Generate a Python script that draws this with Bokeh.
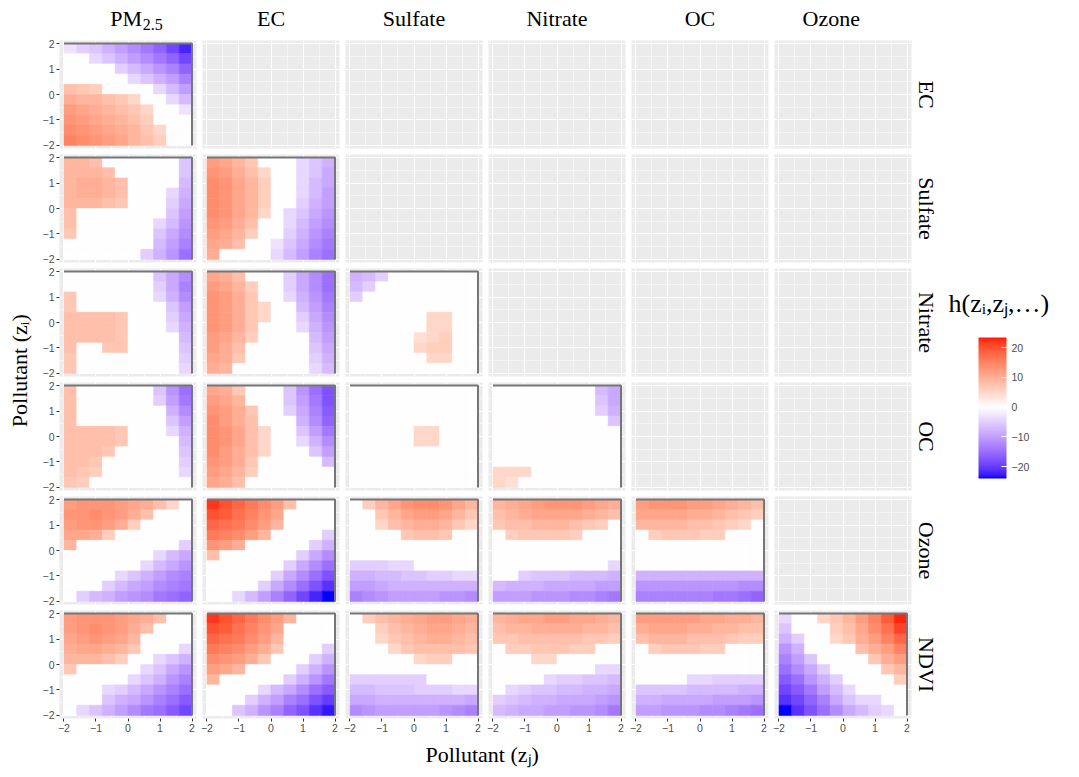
import numpy as np
from math import pi
from bokeh.plotting import figure
from bokeh.models import (GridPlot, ColumnDataSource, LinearColorMapper, ColorBar,
                          FixedTicker, Range1d, Title, Label, Grid)
from bokeh.embed import file_html
from bokeh.resources import INLINE

# ---------------- data ----------------
ROW_NAMES = ["EC", "Sulfate", "Nitrate", "OC", "Ozone", "NDVI"]
COL_NAMES = ["PM2.5", "EC", "Sulfate", "Nitrate", "OC", "Ozone"]
AXIS_TICKS = [-2, -1, 0, 1, 2]
AXIS_TICK_LABELS = {-2: "\u22122", -1: "\u22121", 0: "0", 1: "1", 2: "2"}
LEGEND_TICKS = [-20, -10, 0, 10, 20]
LEGEND_TICK_LABELS = {-20: "\u221220", -10: "\u221210", 0: "0", 10: "10", 20: "20"}
H_MIN, H_MAX = -24, 23.4
Z_LIM = 2.0
X_TITLE = "Pollutant (z\u2c7c)"
Y_TITLE = "Pollutant (z\u1d62)"
LEGEND_TITLE = "h(z\u1d62,z\u2c7c,\u2026)"

# h values on a 10 x 10 grid, rows listed from z_i = 2 (top) down to z_i = -2,
# columns from z_j = -2 to z_j = 2
H_EC_PM25 = [
    [-3, -5, -6, -8, -10, -12, -14, -16, -19, -22],
    [0, 0, -4, -6, -8, -10, -12, -14, -16, -19],
    [0, 0, 0, 0, -5, -7, -9, -11, -13, -16],
    [0, 0, 0, 0, 0, -4, -6, -8, -10, -13],
    [8, 7, 6, 0, 0, 0, 0, -4, -7, -10],
    [10, 9, 9, 8, 7, 5, 0, 0, -4, -7],
    [12, 11, 10, 9, 8, 7, 5, 0, 0, -3],
    [13, 12, 11, 10, 9, 8, 6, 0, 0, 0],
    [14, 13, 12, 11, 10, 9, 7, 5, 0, 0],
    [15, 14, 13, 12, 11, 9, 8, 6, 0, 0],
]
H_SU_PM25 = [
    [9, 9, 8, 0, 0, 0, 0, 0, 0, -6],
    [9, 9, 9, 8, 0, 0, 0, 0, 0, -6],
    [9, 10, 10, 9, 8, 0, 0, 0, 0, -7],
    [9, 10, 10, 9, 8, 0, 0, 0, -4, -8],
    [9, 9, 9, 8, 7, 0, 0, 0, -5, -9],
    [8, 0, 0, 0, 0, 0, 0, 0, -6, -10],
    [8, 0, 0, 0, 0, 0, 0, -4, -7, -11],
    [7, 0, 0, 0, 0, 0, 0, -6, -9, -12],
    [0, 0, 0, 0, 0, 0, 0, -7, -10, -13],
    [0, 0, 0, 0, 0, 0, -5, -8, -11, -15],
]
H_SU_EC = [
    [12, 11, 9, 7, 0, 0, 0, -4, -6, -8],
    [13, 12, 10, 8, 5, 0, 0, -4, -6, -9],
    [14, 13, 11, 9, 6, 0, 0, -4, -7, -9],
    [14, 13, 11, 9, 6, 0, 0, -4, -7, -10],
    [14, 13, 11, 9, 6, 0, 0, -5, -8, -10],
    [14, 13, 11, 9, 5, 0, -4, -6, -9, -11],
    [13, 12, 10, 8, 0, 0, -4, -7, -10, -12],
    [12, 11, 9, 6, 0, 0, -5, -8, -11, -13],
    [11, 10, 8, 0, 0, -3, -6, -9, -12, -14],
    [10, 0, 0, 0, 0, -4, -7, -10, -13, -15],
]
H_NI_PM25 = [
    [0, 0, 0, 0, 0, 0, 0, -6, -9, -12],
    [0, 0, 0, 0, 0, 0, 0, -5, -9, -13],
    [7, 0, 0, 0, 0, 0, 0, -4, -8, -12],
    [7, 0, 0, 0, 0, 0, 0, 0, -6, -10],
    [8, 8, 8, 8, 7, 0, 0, 0, -5, -9],
    [8, 8, 8, 8, 7, 0, 0, 0, -4, -8],
    [8, 8, 8, 8, 7, 0, 0, 0, 0, -7],
    [8, 0, 0, 7, 7, 0, 0, 0, 0, -6],
    [7, 0, 0, 0, 0, 0, 0, 0, 0, -5],
    [7, 0, 0, 0, 0, 0, 0, 0, 0, -4],
]
H_NI_EC = [
    [11, 10, 8, 0, 0, 0, -5, -9, -12, -15],
    [12, 11, 9, 6, 0, 0, -5, -9, -12, -15],
    [13, 12, 10, 7, 0, 0, -4, -8, -11, -14],
    [13, 12, 10, 7, 5, 0, 0, -7, -10, -13],
    [13, 12, 10, 7, 5, 0, 0, -5, -9, -12],
    [13, 12, 10, 7, 0, 0, 0, -4, -8, -11],
    [12, 11, 9, 6, 0, 0, 0, 0, -7, -10],
    [12, 10, 8, 0, 0, 0, 0, 0, -6, -9],
    [11, 10, 7, 0, 0, 0, 0, 0, -5, -8],
    [10, 9, 0, 0, 0, 0, 0, 0, -4, -7],
]
H_NI_SU = [
    [-8, -7, -5, 0, 0, 0, 0, 0, 0, 0],
    [-7, -5, 0, 0, 0, 0, 0, 0, 0, 0],
    [-5, 0, 0, 0, 0, 0, 0, 0, 0, 0],
    [0, 0, 0, 0, 0, 0, 0, 0, 0, 0],
    [0, 0, 0, 0, 0, 0, 5, 5, 0, 0],
    [0, 0, 0, 0, 0, 0, 5, 5, 0, 0],
    [0, 0, 0, 0, 0, 4, 5, 6, 0, 0],
    [0, 0, 0, 0, 0, 5, 6, 6, 0, 0],
    [0, 0, 0, 0, 0, 0, 5, 5, 0, 0],
    [0, 0, 0, 0, 0, 0, 0, 0, 0, 0],
]
H_OC_PM25 = [
    [8, 0, 0, 0, 0, 0, 0, -6, -11, -15],
    [8, 0, 0, 0, 0, 0, 0, -5, -10, -14],
    [8, 0, 0, 0, 0, 0, 0, 0, -8, -12],
    [8, 0, 0, 0, 0, 0, 0, 0, -6, -10],
    [8, 8, 8, 8, 7, 0, 0, 0, -4, -8],
    [8, 8, 8, 8, 7, 0, 0, 0, 0, -7],
    [8, 8, 8, 7, 0, 0, 0, 0, 0, -6],
    [8, 8, 7, 0, 0, 0, 0, 0, 0, -5],
    [8, 7, 6, 0, 0, 0, 0, 0, 0, -4],
    [7, 6, 0, 0, 0, 0, 0, 0, 0, 0],
]
H_OC_EC = [
    [11, 10, 7, 0, 0, 0, -6, -11, -15, -18],
    [12, 11, 9, 0, 0, 0, -6, -10, -14, -18],
    [13, 12, 10, 7, 0, 0, -5, -9, -13, -17],
    [14, 12, 10, 8, 0, 0, 0, -8, -12, -16],
    [14, 13, 11, 8, 5, 0, 0, -6, -10, -14],
    [14, 13, 11, 8, 5, 0, 0, -4, -8, -12],
    [14, 12, 10, 8, 5, 0, 0, 0, -6, -10],
    [13, 12, 10, 7, 0, 0, 0, 0, 0, -7],
    [12, 11, 9, 6, 0, 0, 0, 0, 0, 0],
    [11, 10, 8, 0, 0, 0, 0, 0, 0, 0],
]
H_OC_SU = [
    [0, 0, 0, 0, 0, 0, 0, 0, 0, 0],
    [0, 0, 0, 0, 0, 0, 0, 0, 0, 0],
    [0, 0, 0, 0, 0, 0, 0, 0, 0, 0],
    [0, 0, 0, 0, 0, 0, 0, 0, 0, 0],
    [0, 0, 0, 0, 0, 5, 5, 0, 0, 0],
    [0, 0, 0, 0, 0, 5, 5, 0, 0, 0],
    [0, 0, 0, 0, 0, 0, 0, 0, 0, 0],
    [0, 0, 0, 0, 0, 0, 0, 0, 0, 0],
    [0, 0, 0, 0, 0, 0, 0, 0, 0, 0],
    [0, 0, 0, 0, 0, 0, 0, 0, 0, 0],
]
H_OC_NI = [
    [0, 0, 0, 0, 0, 0, 0, 0, -7, -9],
    [0, 0, 0, 0, 0, 0, 0, 0, -6, -9],
    [0, 0, 0, 0, 0, 0, 0, 0, -5, -8],
    [0, 0, 0, 0, 0, 0, 0, 0, 0, -6],
    [0, 0, 0, 0, 0, 0, 0, 0, 0, 0],
    [0, 0, 0, 0, 0, 0, 0, 0, 0, 0],
    [0, 0, 0, 0, 0, 0, 0, 0, 0, 0],
    [0, 0, 0, 0, 0, 0, 0, 0, 0, 0],
    [5, 5, 5, 0, 0, 0, 0, 0, 0, 0],
    [5, 4, 0, 0, 0, 0, 0, 0, 0, 0],
]
H_OZ_PM25 = [
    [12, 13, 13, 13, 12, 11, 10, 8, 5, 0],
    [13, 13, 14, 13, 12, 10, 8, 0, 0, 0],
    [12, 13, 13, 12, 10, 6, 0, 0, 0, 0],
    [11, 11, 10, 6, 0, 0, 0, 0, 0, 0],
    [9, 0, 0, 0, 0, 0, 0, 0, 0, -5],
    [0, 0, 0, 0, 0, 0, 0, -4, -7, -9],
    [0, 0, 0, 0, 0, 0, -4, -7, -9, -11],
    [0, 0, 0, 0, -4, -6, -8, -10, -12, -13],
    [0, 0, 0, -5, -7, -9, -10, -12, -13, -14],
    [0, -5, -7, -8, -10, -11, -12, -14, -15, -16],
]
H_OZ_EC = [
    [22, 20, 18, 16, 14, 12, 8, 0, 0, 0],
    [20, 19, 17, 15, 13, 11, 0, 0, 0, 0],
    [18, 17, 16, 14, 12, 9, 0, 0, 0, 0],
    [16, 15, 14, 12, 9, 0, 0, 0, 0, -5],
    [13, 12, 10, 0, 0, 0, 0, 0, -5, -8],
    [8, 0, 0, 0, 0, 0, 0, -5, -9, -12],
    [0, 0, 0, 0, 0, 0, -5, -9, -12, -15],
    [0, 0, 0, 0, 0, -5, -9, -12, -15, -18],
    [0, 0, 0, 0, -5, -9, -12, -15, -18, -21],
    [0, 0, -4, -7, -10, -13, -16, -19, -22, -24],
]
H_OZ_SU = [
    [0, 6, 9, 11, 13, 14, 14, 13, 11, 9],
    [0, 0, 7, 9, 11, 12, 12, 11, 9, 7],
    [0, 0, 5, 8, 9, 10, 10, 9, 7, 5],
    [0, 0, 0, 0, 7, 8, 8, 7, 0, 0],
    [0, 0, 0, 0, 0, 0, 0, 0, 0, 0],
    [0, 0, 0, 0, 0, 0, 0, 0, 0, 0],
    [-5, -5, -5, -4, -4, 0, 0, 0, 0, 0],
    [-8, -8, -7, -7, -6, -6, -5, -5, -4, -4],
    [-10, -10, -9, -8, -8, -8, -8, -8, -8, -8],
    [-13, -12, -11, -10, -10, -10, -10, -11, -11, -12],
]
H_OZ_NI = [
    [9, 10, 11, 12, 13, 13, 13, 12, 11, 10],
    [8, 9, 10, 11, 11, 11, 11, 10, 9, 8],
    [7, 8, 8, 9, 9, 9, 8, 7, 6, 0],
    [0, 6, 7, 7, 7, 7, 6, 0, 0, 0],
    [0, 0, 0, 0, 0, 0, 0, 0, 0, 0],
    [0, 0, 0, 0, 0, 0, 0, 0, 0, 0],
    [0, 0, 0, 0, 0, 0, 0, 0, 0, -4],
    [0, 0, -5, -6, -6, -6, -7, -7, -7, -8],
    [-7, -8, -8, -8, -9, -9, -9, -9, -10, -10],
    [-10, -10, -10, -11, -11, -11, -12, -12, -13, -14],
]
H_OZ_OC = [
    [12, 13, 13, 13, 12, 12, 11, 10, 9, 8],
    [11, 11, 11, 11, 10, 10, 9, 8, 7, 6],
    [9, 9, 9, 9, 8, 8, 7, 6, 5, 0],
    [0, 6, 7, 7, 7, 6, 6, 0, 0, 0],
    [0, 0, 0, 0, 0, 0, 0, 0, 0, 0],
    [0, 0, 0, 0, 0, 0, 0, 0, 0, 0],
    [0, 0, 0, 0, 0, 0, 0, 0, 0, 0],
    [-8, -8, -8, -8, -8, -8, -8, -8, -8, -8],
    [-11, -11, -11, -11, -11, -11, -11, -11, -12, -12],
    [-13, -13, -13, -13, -13, -13, -14, -14, -15, -16],
]
H_ND_PM25 = [
    [12, 13, 13, 13, 12, 11, 10, 8, 0, 0],
    [12, 13, 14, 13, 12, 10, 8, 0, 0, 0],
    [11, 12, 13, 12, 11, 9, 0, 0, 0, 0],
    [10, 11, 11, 10, 9, 7, 0, 0, 0, -4],
    [9, 9, 9, 8, 6, 0, 0, -4, -6, -8],
    [7, 0, 0, 0, 0, 0, -4, -6, -9, -11],
    [0, 0, 0, 0, 0, -4, -6, -8, -11, -13],
    [0, 0, 0, -4, -5, -7, -9, -11, -13, -15],
    [0, 0, 0, -6, -8, -9, -11, -13, -15, -17],
    [0, -4, -6, -8, -10, -12, -14, -15, -17, -19],
]
H_ND_EC = [
    [22, 20, 18, 16, 14, 12, 9, 0, 0, 0],
    [20, 19, 17, 15, 13, 11, 0, 0, 0, 0],
    [18, 17, 16, 14, 12, 9, 0, 0, 0, 0],
    [16, 15, 14, 12, 10, 7, 0, 0, 0, -5],
    [14, 13, 12, 10, 7, 0, 0, 0, -5, -8],
    [12, 11, 9, 0, 0, 0, 0, -5, -8, -11],
    [9, 0, 0, 0, 0, 0, -5, -8, -11, -14],
    [0, 0, 0, 0, -4, -7, -9, -12, -15, -17],
    [0, 0, 0, -5, -8, -10, -13, -15, -18, -20],
    [0, 0, -6, -8, -11, -13, -16, -18, -21, -23],
]
H_ND_SU = [
    [0, 6, 8, 9, 10, 11, 12, 12, 11, 10],
    [0, 0, 6, 8, 9, 10, 11, 11, 10, 9],
    [0, 0, 5, 7, 8, 9, 10, 10, 9, 8],
    [0, 0, 0, 5, 7, 8, 8, 8, 8, 7],
    [0, 0, 0, 0, 0, 5, 6, 6, 0, 0],
    [0, 0, 0, 0, 0, 0, 0, 0, 0, 0],
    [-5, -5, -5, -5, -5, -5, 0, 0, 0, 0],
    [-7, -7, -6, -6, -6, -5, -5, -5, -4, -4],
    [-9, -9, -8, -8, -8, -8, -8, -8, -8, -9],
    [-12, -11, -10, -10, -10, -10, -10, -11, -12, -13],
]
H_ND_NI = [
    [9, 10, 11, 11, 12, 12, 11, 11, 10, 9],
    [8, 9, 9, 10, 10, 10, 10, 9, 9, 8],
    [7, 7, 8, 8, 8, 8, 8, 7, 7, 6],
    [0, 6, 6, 7, 7, 7, 6, 6, 0, 0],
    [0, 0, 0, 5, 5, 0, 0, 0, 0, 0],
    [0, 0, 0, 0, 0, 0, 0, 0, -4, -4],
    [0, 0, 0, 0, -4, -5, -5, -6, -6, -7],
    [0, -4, -5, -6, -6, -7, -7, -8, -8, -9],
    [-5, -6, -7, -8, -8, -9, -9, -9, -10, -11],
    [-7, -8, -9, -9, -10, -10, -11, -11, -12, -14],
]
H_ND_OC = [
    [12, 12, 12, 12, 12, 11, 11, 10, 10, 9],
    [10, 11, 11, 11, 10, 10, 9, 9, 8, 8],
    [8, 9, 9, 9, 8, 8, 8, 7, 6, 6],
    [0, 6, 7, 7, 7, 6, 6, 0, 0, 0],
    [0, 0, 0, 0, 0, 0, 0, 0, 0, 0],
    [0, 0, 0, 0, 0, 0, 0, 0, 0, 0],
    [0, 0, 0, 0, -4, -4, -5, -5, -5, -5],
    [-6, -6, -6, -6, -7, -7, -7, -7, -8, -8],
    [-8, -8, -9, -9, -9, -9, -10, -10, -10, -11],
    [-10, -10, -11, -11, -11, -12, -12, -13, -14, -15],
]
H_ND_OZ = [
    [-4, 0, 0, 5, 7, 9, 12, 15, 19, 23],
    [-6, 0, 0, 0, 6, 8, 11, 14, 17, 21],
    [-8, -5, 0, 0, 5, 7, 10, 12, 15, 18],
    [-11, -8, 0, 0, 0, 0, 8, 10, 12, 15],
    [-13, -10, -6, 0, 0, 0, 0, 7, 10, 12],
    [-15, -12, -9, -5, 0, 0, 0, 0, 7, 9],
    [-17, -15, -11, -8, -5, 0, 0, 0, 0, 6],
    [-19, -17, -14, -10, -7, -4, 0, 0, 0, 0],
    [-21, -19, -16, -13, -9, -6, -4, -4, 0, 0],
    [-24, -21, -18, -15, -12, -9, -7, -5, -4, 0],
]

PANELS = {
    (0, 0): H_EC_PM25,
    (1, 0): H_SU_PM25, (1, 1): H_SU_EC,
    (2, 0): H_NI_PM25, (2, 1): H_NI_EC, (2, 2): H_NI_SU,
    (3, 0): H_OC_PM25, (3, 1): H_OC_EC, (3, 2): H_OC_SU, (3, 3): H_OC_NI,
    (4, 0): H_OZ_PM25, (4, 1): H_OZ_EC, (4, 2): H_OZ_SU, (4, 3): H_OZ_NI, (4, 4): H_OZ_OC,
    (5, 0): H_ND_PM25, (5, 1): H_ND_EC, (5, 2): H_ND_SU, (5, 3): H_ND_NI, (5, 4): H_ND_OC,
    (5, 5): H_ND_OZ,
}

# ---------------- colour scale (ggplot2 gradient2: blue-white-red, Lab) ----------------
_WP = (0.95047, 1.0, 1.08883)


def _lin(c):
    c = c / 255.0
    return c / 12.92 if c <= 0.04045 else ((c + 0.055) / 1.055) ** 2.4


def _gam(c):
    c = 12.92 * c if c <= 0.0031308 else 1.055 * max(c, 0) ** (1 / 2.4) - 0.055
    return int(round(min(max(c, 0.0), 1.0) * 255))


def rgb2lab(rgb):
    r, g, b = [_lin(v) for v in rgb]
    x = 0.4124564 * r + 0.3575761 * g + 0.1804375 * b
    y = 0.2126729 * r + 0.7151522 * g + 0.0721750 * b
    z = 0.0193339 * r + 0.1191920 * g + 0.9503041 * b

    def f(t):
        return t ** (1 / 3) if t > 216 / 24389 else (24389 / 27 * t + 16) / 116

    fx, fy, fz = f(x / _WP[0]), f(y / _WP[1]), f(z / _WP[2])
    return (116 * fy - 16, 500 * (fx - fy), 200 * (fy - fz))


def lab2hex(lab):
    L, a, bb = lab
    fy = (L + 16) / 116
    fx = fy + a / 500
    fz = fy - bb / 200

    def finv(t):
        return t ** 3 if t ** 3 > 216 / 24389 else (116 * t - 16) / (24389 / 27)

    x, y, z = finv(fx) * _WP[0], finv(fy) * _WP[1], finv(fz) * _WP[2]
    r = 3.2404542 * x - 1.5371385 * y - 0.4985314 * z
    g = -0.9692660 * x + 1.8760108 * y + 0.0415560 * z
    b = 0.0556434 * x - 0.2040259 * y + 1.0572252 * z
    return "#%02x%02x%02x" % (_gam(r), _gam(g), _gam(b))


LOW_LAB, MID_LAB, HIGH_LAB = rgb2lab((0, 0, 255)), rgb2lab((255, 255, 255)), rgb2lab((255, 0, 0))
PALETTE = []
for i in range(256):
    t = i / 255
    if t < 0.5:
        s, A, B = t / 0.5, LOW_LAB, MID_LAB
    else:
        s, A, B = (t - 0.5) / 0.5, MID_LAB, HIGH_LAB
    PALETTE.append(lab2hex(tuple(A[k] + (B[k] - A[k]) * s for k in range(3))))

HABS = max(abs(H_MIN), abs(H_MAX))
MAPPER = LinearColorMapper(palette=PALETTE, low=-HABS, high=HABS)

# ---------------- layout constants ----------------
SERIF = "Liberation Serif"
SANS = "Liberation Sans"
FRAME_W, FRAME_H = 137, 108
X_EXP, Y_EXP = 0.14, 0.12
GAP = 3
LEFT_AX = 25
BOTTOM_AX = 17
STRIP_H = 37
RIGHT_STRIP = 30
YT_W = 34
LEG_W = 130
XT_H = 38
STRIP_FONT = 22
SUB_FONT = 16

row_heights = [STRIP_H] + [2 * GAP + FRAME_H] * 5 + [GAP + FRAME_H + BOTTOM_AX]
col_widths = [LEFT_AX + FRAME_W + GAP] + [2 * GAP + FRAME_W] * 4 + [GAP + FRAME_W + RIGHT_STRIP]
GRID_H = sum(row_heights)
GRID_W = sum(col_widths)

n_cells = len(H_EC_PM25)
cell = 2 * Z_LIM / n_cells
centers = -Z_LIM + cell * (np.arange(n_cells) + 0.5)
minor = [(a + b) / 2 for a, b in zip(AXIS_TICKS[:-1], AXIS_TICKS[1:])]


def add_grid(p):
    p.center = []
    for dim in (0, 1):
        p.add_layout(Grid(dimension=dim,
                          ticker=FixedTicker(ticks=AXIS_TICKS, minor_ticks=minor),
                          grid_line_color="white", grid_line_width=1.1,
                          minor_grid_line_color="white", minor_grid_line_width=0.5))


def style_axis(ax):
    ax.ticker = FixedTicker(ticks=AXIS_TICKS)
    ax.major_label_overrides = AXIS_TICK_LABELS
    ax.major_label_text_font = SANS
    ax.major_label_text_font_size = "10.5px"
    ax.major_label_text_color = "#4D4D4D"
    ax.major_tick_line_color = "#333333"
    ax.major_tick_out = 3
    ax.major_tick_in = 0
    ax.minor_tick_line_color = None
    ax.axis_line_color = None
    ax.major_label_standoff = 2


def blank(w, h):
    f = figure(width=w, height=h, x_range=Range1d(0, w), y_range=Range1d(0, h),
               output_backend="svg", toolbar_location=None, title=None,
               x_axis_location=None, y_axis_location=None, min_border=0,
               outline_line_color=None, background_fill_color=None,
               border_fill_color="white")
    f.center = []
    return f


children = []

# column strips (top)
STRIP_MID = STRIP_H - 18
for c in range(6):
    s = blank(col_widths[c], STRIP_H)
    cx = (LEFT_AX if c == 0 else GAP) + FRAME_W / 2
    name = COL_NAMES[c]
    if name == "PM2.5":
        main, sub = "PM", "2.5"
        w_main = (0.556 + 0.889) * STRIP_FONT
        w_sub = (0.5 + 0.25 + 0.5) * SUB_FONT
        joint = cx - (w_main + w_sub) / 2 + w_main
        s.add_layout(Label(x=joint, y=STRIP_MID, text=main, text_align="right",
                           text_baseline="middle", text_font=SERIF,
                           text_font_size=f"{STRIP_FONT}px", text_color="black"))
        s.add_layout(Label(x=joint + 1, y=STRIP_MID - 6, text=sub, text_align="left",
                           text_baseline="middle", text_font=SERIF,
                           text_font_size=f"{SUB_FONT}px", text_color="black"))
    else:
        s.add_layout(Label(x=cx, y=STRIP_MID, text=name, text_align="center",
                           text_baseline="middle", text_font=SERIF,
                           text_font_size=f"{STRIP_FONT}px", text_color="black"))
    children.append((s, 0, c + 1))

# panels
for r in range(6):
    for c in range(6):
        p = figure(frame_width=FRAME_W, frame_height=FRAME_H,
                   x_range=Range1d(-Z_LIM - X_EXP, Z_LIM + X_EXP),
                   y_range=Range1d(-Z_LIM - Y_EXP, Z_LIM + Y_EXP),
                   output_backend="svg", toolbar_location=None, title=None,
                   x_axis_location="below" if r == 5 else None,
                   y_axis_location="left" if c == 0 else None,
                   min_border_left=LEFT_AX if c == 0 else GAP,
                   min_border_right=RIGHT_STRIP if c == 5 else GAP,
                   min_border_top=GAP,
                   min_border_bottom=BOTTOM_AX if r == 5 else GAP,
                   outline_line_color=None, background_fill_color="#EBEBEB",
                   border_fill_color="white")
        add_grid(p)
        for ax in p.axis:
            style_axis(ax)
        if (r, c) in PANELS:
            grid_vals = PANELS[(r, c)]
            xs, ys, vs = [], [], []
            for i, row_vals in enumerate(grid_vals):
                for j, v in enumerate(row_vals):
                    xs.append(centers[j])
                    ys.append(centers[::-1][i])
                    vs.append(v)
            src = ColumnDataSource(dict(x=xs, y=ys, v=vs))
            p.rect(x="x", y="y", width=cell, height=cell, source=src,
                   fill_color={"field": "v", "transform": MAPPER},
                   line_color={"field": "v", "transform": MAPPER}, line_width=0.6)
            p.line(x=[-Z_LIM, Z_LIM, Z_LIM], y=[Z_LIM, Z_LIM, -Z_LIM],
                   line_color="#767676", line_width=2)
        if c == 5:
            p.add_layout(Title(text=ROW_NAMES[r], align="center", text_font=SERIF,
                               text_font_size=f"{STRIP_FONT}px", text_font_style="normal",
                               text_color="black", standoff=5), "right")
        children.append((p, r + 1, c + 1))

# y-axis title (centred on the panel block)
frames_top = STRIP_H + GAP
frames_bottom = GRID_H - BOTTOM_AX
yt = blank(YT_W, GRID_H)
yt.add_layout(Label(x=YT_W * 0.55, y=GRID_H - (frames_top + frames_bottom) / 2, text=Y_TITLE,
                    angle=pi / 2, text_align="center", text_baseline="middle",
                    text_font=SERIF, text_font_size="22px", text_color="black"))
children.append((yt, 0, 0, 7, 1))

# x-axis title
frames_left = LEFT_AX
frames_right = GRID_W - RIGHT_STRIP
xt = blank(GRID_W, XT_H)
xt.add_layout(Label(x=(frames_left + frames_right) / 2, y=XT_H - 19, text=X_TITLE,
                    text_align="center", text_baseline="middle",
                    text_font=SERIF, text_font_size="22px", text_color="black"))
children.append((xt, 7, 1, 1, 6))

# legend
leg = blank(LEG_W, GRID_H)
leg.add_layout(Label(x=5, y=GRID_H - 310, text=LEGEND_TITLE, text_align="left",
                     text_baseline="middle", text_font=SERIF, text_font_size="26px",
                     text_color="black"))
cb = ColorBar(color_mapper=MAPPER, ticker=FixedTicker(ticks=LEGEND_TICKS),
              major_label_overrides=LEGEND_TICK_LABELS,
              width=28, height=141, location=(35, GRID_H - 495), padding=0, margin=0,
              display_low=H_MIN, display_high=H_MAX,
              major_tick_line_color="white", major_tick_in=5, major_tick_out=0,
              major_label_text_font=SANS, major_label_text_font_size="10.5px",
              major_label_text_color="#4D4D4D", label_standoff=5,
              bar_line_color=None, border_line_color=None, background_fill_alpha=0)
leg.add_layout(cb, "center")
children.append((leg, 0, 7, 7, 1))

layout = GridPlot(children=children, toolbar_location=None, spacing=0)

open("out.html", "w").write(file_html(layout, INLINE))
